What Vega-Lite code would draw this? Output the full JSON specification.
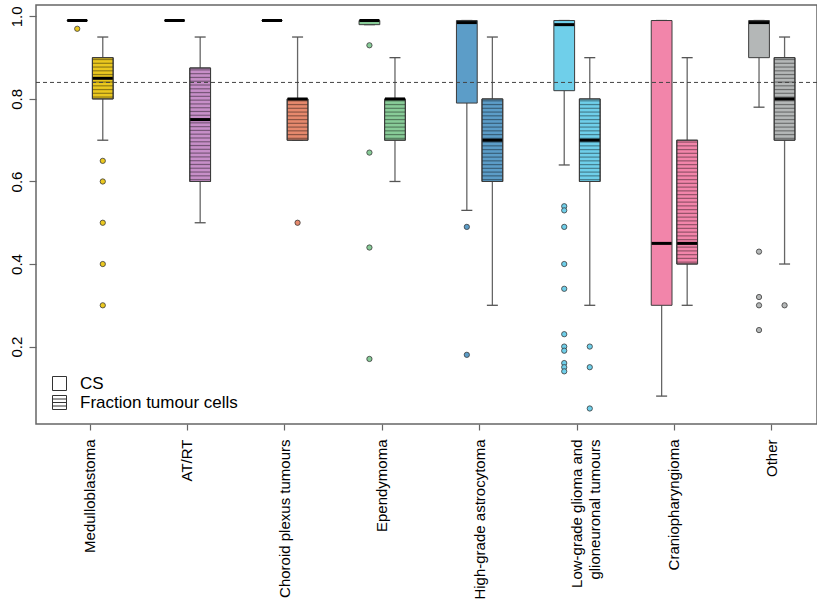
{
  "$schema": "https://vega.github.io/schema/vega-lite/v6.json",
  "width": 781,
  "height": 419,
  "autosize": {"type": "none"},
  "padding": {"left": 36, "top": 5, "right": 0, "bottom": 176},
  "background": "white",
  "datasets": {
    "boxes": [
      {"cat": "Medulloblastoma", "type": "CS", "lo": 0.99, "q1": 0.99, "med": 0.99, "q3": 0.99, "hi": 0.99},
      {"cat": "Medulloblastoma", "type": "Fraction tumour cells", "lo": 0.70, "q1": 0.80, "med": 0.85, "q3": 0.90, "hi": 0.95},
      {"cat": "AT/RT", "type": "CS", "lo": 0.99, "q1": 0.99, "med": 0.99, "q3": 0.99, "hi": 0.99},
      {"cat": "AT/RT", "type": "Fraction tumour cells", "lo": 0.50, "q1": 0.60, "med": 0.75, "q3": 0.875, "hi": 0.95},
      {"cat": "Choroid plexus tumours", "type": "CS", "lo": 0.99, "q1": 0.99, "med": 0.99, "q3": 0.99, "hi": 0.99},
      {"cat": "Choroid plexus tumours", "type": "Fraction tumour cells", "lo": 0.70, "q1": 0.70, "med": 0.80, "q3": 0.80, "hi": 0.95},
      {"cat": "Ependymoma", "type": "CS", "lo": 0.98, "q1": 0.98, "med": 0.99, "q3": 0.99, "hi": 0.99},
      {"cat": "Ependymoma", "type": "Fraction tumour cells", "lo": 0.60, "q1": 0.70, "med": 0.80, "q3": 0.80, "hi": 0.90},
      {"cat": "High-grade astrocytoma", "type": "CS", "lo": 0.53, "q1": 0.79, "med": 0.985, "q3": 0.99, "hi": 0.99},
      {"cat": "High-grade astrocytoma", "type": "Fraction tumour cells", "lo": 0.30, "q1": 0.60, "med": 0.70, "q3": 0.80, "hi": 0.95},
      {"cat": "Low-grade glioma and glioneuronal tumours", "type": "CS", "lo": 0.64, "q1": 0.82, "med": 0.98, "q3": 0.99, "hi": 0.99},
      {"cat": "Low-grade glioma and glioneuronal tumours", "type": "Fraction tumour cells", "lo": 0.30, "q1": 0.60, "med": 0.70, "q3": 0.80, "hi": 0.90},
      {"cat": "Craniopharyngioma", "type": "CS", "lo": 0.08, "q1": 0.30, "med": 0.45, "q3": 0.99, "hi": 0.99},
      {"cat": "Craniopharyngioma", "type": "Fraction tumour cells", "lo": 0.30, "q1": 0.40, "med": 0.45, "q3": 0.70, "hi": 0.90},
      {"cat": "Other", "type": "CS", "lo": 0.78, "q1": 0.90, "med": 0.985, "q3": 0.99, "hi": 0.99},
      {"cat": "Other", "type": "Fraction tumour cells", "lo": 0.40, "q1": 0.70, "med": 0.80, "q3": 0.90, "hi": 0.95}
    ],
    "outliers": [
      {"cat": "Medulloblastoma", "type": "CS", "v": 0.97},
      {"cat": "Medulloblastoma", "type": "Fraction tumour cells", "v": 0.65},
      {"cat": "Medulloblastoma", "type": "Fraction tumour cells", "v": 0.60},
      {"cat": "Medulloblastoma", "type": "Fraction tumour cells", "v": 0.50},
      {"cat": "Medulloblastoma", "type": "Fraction tumour cells", "v": 0.40},
      {"cat": "Medulloblastoma", "type": "Fraction tumour cells", "v": 0.30},
      {"cat": "Choroid plexus tumours", "type": "Fraction tumour cells", "v": 0.50},
      {"cat": "Ependymoma", "type": "CS", "v": 0.93},
      {"cat": "Ependymoma", "type": "CS", "v": 0.67},
      {"cat": "Ependymoma", "type": "CS", "v": 0.44},
      {"cat": "Ependymoma", "type": "CS", "v": 0.17},
      {"cat": "High-grade astrocytoma", "type": "CS", "v": 0.49},
      {"cat": "High-grade astrocytoma", "type": "CS", "v": 0.18},
      {"cat": "Low-grade glioma and glioneuronal tumours", "type": "CS", "v": 0.54},
      {"cat": "Low-grade glioma and glioneuronal tumours", "type": "CS", "v": 0.53},
      {"cat": "Low-grade glioma and glioneuronal tumours", "type": "CS", "v": 0.49},
      {"cat": "Low-grade glioma and glioneuronal tumours", "type": "CS", "v": 0.40},
      {"cat": "Low-grade glioma and glioneuronal tumours", "type": "CS", "v": 0.34},
      {"cat": "Low-grade glioma and glioneuronal tumours", "type": "CS", "v": 0.23},
      {"cat": "Low-grade glioma and glioneuronal tumours", "type": "CS", "v": 0.20},
      {"cat": "Low-grade glioma and glioneuronal tumours", "type": "CS", "v": 0.19},
      {"cat": "Low-grade glioma and glioneuronal tumours", "type": "CS", "v": 0.16},
      {"cat": "Low-grade glioma and glioneuronal tumours", "type": "CS", "v": 0.15},
      {"cat": "Low-grade glioma and glioneuronal tumours", "type": "CS", "v": 0.14},
      {"cat": "Low-grade glioma and glioneuronal tumours", "type": "Fraction tumour cells", "v": 0.20},
      {"cat": "Low-grade glioma and glioneuronal tumours", "type": "Fraction tumour cells", "v": 0.15},
      {"cat": "Low-grade glioma and glioneuronal tumours", "type": "Fraction tumour cells", "v": 0.05},
      {"cat": "Other", "type": "CS", "v": 0.43},
      {"cat": "Other", "type": "CS", "v": 0.32},
      {"cat": "Other", "type": "CS", "v": 0.30},
      {"cat": "Other", "type": "CS", "v": 0.24},
      {"cat": "Other", "type": "Fraction tumour cells", "v": 0.30}
    ],
    "reference": [{"ref": 0.84}]
  },
  "layer": [
    {
      "data": {"name": "boxes"},
      "mark": {"type": "rule", "color": "#666", "strokeWidth": 1.3},
      "encoding": {
        "x": {"field": "cat", "type": "nominal", "title": null,
          "scale": {"domain": ["Medulloblastoma", "AT/RT", "Choroid plexus tumours", "Ependymoma", "High-grade astrocytoma", "Low-grade glioma and glioneuronal tumours", "Craniopharyngioma", "Other"], "range": [5.3, 784.5], "paddingInner": 0, "paddingOuter": 0},
          "axis": {"labelExpr": "datum.label == 'Low-grade glioma and glioneuronal tumours' ? ['Low-grade glioma and', 'glioneuronal tumours'] : datum.label"}},
        "xOffset": {"field": "type", "type": "nominal", "scale": {"domain": ["CS", "Fraction tumour cells"], "paddingInner": 0.1875, "paddingOuter": 1.123}},
        "y": {"field": "lo", "type": "quantitative", "title": null,
          "scale": {"domain": [0.0124, 1.0276], "nice": false, "zero": false},
          "axis": {"values": [0.2, 0.4, 0.6, 0.8, 1.0], "format": ".1f"}},
        "y2": {"field": "q1"}
      }
    },
    {
      "data": {"name": "boxes"},
      "mark": {"type": "rule", "color": "#666", "strokeWidth": 1.3},
      "encoding": {
        "x": {"field": "cat", "type": "nominal", "title": null},
        "xOffset": {"field": "type", "type": "nominal"},
        "y": {"field": "q3", "type": "quantitative", "title": null},
        "y2": {"field": "hi"}
      }
    },
    {
      "data": {"name": "boxes"},
      "mark": {"type": "tick", "color": "#555", "thickness": 1.3, "size": 11, "opacity": 1},
      "encoding": {
        "x": {"field": "cat", "type": "nominal", "title": null},
        "xOffset": {"field": "type", "type": "nominal"},
        "y": {"field": "lo", "type": "quantitative", "title": null}
      }
    },
    {
      "data": {"name": "boxes"},
      "mark": {"type": "tick", "color": "#555", "thickness": 1.3, "size": 11, "opacity": 1},
      "encoding": {
        "x": {"field": "cat", "type": "nominal", "title": null},
        "xOffset": {"field": "type", "type": "nominal"},
        "y": {"field": "hi", "type": "quantitative", "title": null}
      }
    },
    {
      "data": {"name": "boxes"},
      "mark": {"type": "bar", "stroke": "#3c3c3c", "strokeWidth": 1, "opacity": 1},
      "encoding": {
        "x": {"field": "cat", "type": "nominal", "title": null},
        "xOffset": {"field": "type", "type": "nominal"},
        "y": {"field": "q1", "type": "quantitative", "title": null},
        "y2": {"field": "q3"},
        "fill": {"field": "cat", "type": "nominal", "legend": null,
          "scale": {"domain": ["Medulloblastoma", "AT/RT", "Choroid plexus tumours", "Ependymoma", "High-grade astrocytoma", "Low-grade glioma and glioneuronal tumours", "Craniopharyngioma", "Other"],
                    "range": ["#EBC81F", "#C78FC8", "#E6896D", "#88CC98", "#5C9DC8", "#6FCFEA", "#F285AA", "#B4B7B7"]}}
      }
    },
    {
      "data": {"name": "boxes"},
      "transform": [{"filter": {"and": [{"field": "type", "equal": "Fraction tumour cells"}, {"field": "cat", "oneOf": ["Medulloblastoma", "Choroid plexus tumours", "Ependymoma"]}]}}],
      "mark": {"type": "bar", "stroke": "#3c3c3c", "strokeWidth": 1, "opacity": 1,
        "fill": {"gradient": "linear", "x1": 0, "y1": 0, "x2": 0, "y2": 1, "stops": [
          {"offset": 0.0182, "color": "transparent"}, {"offset": 0.0455, "color": "rgba(0,0,0,0.42)"}, {"offset": 0.0727, "color": "transparent"},
          {"offset": 0.1091, "color": "transparent"}, {"offset": 0.1364, "color": "rgba(0,0,0,0.42)"}, {"offset": 0.1636, "color": "transparent"},
          {"offset": 0.2000, "color": "transparent"}, {"offset": 0.2273, "color": "rgba(0,0,0,0.42)"}, {"offset": 0.2545, "color": "transparent"},
          {"offset": 0.2909, "color": "transparent"}, {"offset": 0.3182, "color": "rgba(0,0,0,0.42)"}, {"offset": 0.3455, "color": "transparent"},
          {"offset": 0.3818, "color": "transparent"}, {"offset": 0.4091, "color": "rgba(0,0,0,0.42)"}, {"offset": 0.4364, "color": "transparent"},
          {"offset": 0.4727, "color": "transparent"}, {"offset": 0.5000, "color": "rgba(0,0,0,0.42)"}, {"offset": 0.5273, "color": "transparent"},
          {"offset": 0.5636, "color": "transparent"}, {"offset": 0.5909, "color": "rgba(0,0,0,0.42)"}, {"offset": 0.6182, "color": "transparent"},
          {"offset": 0.6545, "color": "transparent"}, {"offset": 0.6818, "color": "rgba(0,0,0,0.42)"}, {"offset": 0.7091, "color": "transparent"},
          {"offset": 0.7455, "color": "transparent"}, {"offset": 0.7727, "color": "rgba(0,0,0,0.42)"}, {"offset": 0.8000, "color": "transparent"},
          {"offset": 0.8364, "color": "transparent"}, {"offset": 0.8636, "color": "rgba(0,0,0,0.42)"}, {"offset": 0.8909, "color": "transparent"},
          {"offset": 0.9273, "color": "transparent"}, {"offset": 0.9545, "color": "rgba(0,0,0,0.42)"}, {"offset": 0.9818, "color": "transparent"}
        ]}},
      "encoding": {
        "x": {"field": "cat", "type": "nominal", "title": null},
        "xOffset": {"field": "type", "type": "nominal"},
        "y": {"field": "q1", "type": "quantitative", "title": null},
        "y2": {"field": "q3"}
      }
    },
    {
      "data": {"name": "boxes"},
      "transform": [{"filter": {"and": [{"field": "type", "equal": "Fraction tumour cells"}, {"field": "cat", "oneOf": ["AT/RT"]}]}}],
      "mark": {"type": "bar", "stroke": "#3c3c3c", "strokeWidth": 1, "opacity": 1,
        "fill": {"gradient": "linear", "x1": 0, "y1": 0, "x2": 0, "y2": 1, "stops": [
          {"offset": 0.0067, "color": "transparent"}, {"offset": 0.0167, "color": "rgba(0,0,0,0.42)"}, {"offset": 0.0267, "color": "transparent"},
          {"offset": 0.0400, "color": "transparent"}, {"offset": 0.0500, "color": "rgba(0,0,0,0.42)"}, {"offset": 0.0600, "color": "transparent"},
          {"offset": 0.0733, "color": "transparent"}, {"offset": 0.0833, "color": "rgba(0,0,0,0.42)"}, {"offset": 0.0933, "color": "transparent"},
          {"offset": 0.1067, "color": "transparent"}, {"offset": 0.1167, "color": "rgba(0,0,0,0.42)"}, {"offset": 0.1267, "color": "transparent"},
          {"offset": 0.1400, "color": "transparent"}, {"offset": 0.1500, "color": "rgba(0,0,0,0.42)"}, {"offset": 0.1600, "color": "transparent"},
          {"offset": 0.1733, "color": "transparent"}, {"offset": 0.1833, "color": "rgba(0,0,0,0.42)"}, {"offset": 0.1933, "color": "transparent"},
          {"offset": 0.2067, "color": "transparent"}, {"offset": 0.2167, "color": "rgba(0,0,0,0.42)"}, {"offset": 0.2267, "color": "transparent"},
          {"offset": 0.2400, "color": "transparent"}, {"offset": 0.2500, "color": "rgba(0,0,0,0.42)"}, {"offset": 0.2600, "color": "transparent"},
          {"offset": 0.2733, "color": "transparent"}, {"offset": 0.2833, "color": "rgba(0,0,0,0.42)"}, {"offset": 0.2933, "color": "transparent"},
          {"offset": 0.3067, "color": "transparent"}, {"offset": 0.3167, "color": "rgba(0,0,0,0.42)"}, {"offset": 0.3267, "color": "transparent"},
          {"offset": 0.3400, "color": "transparent"}, {"offset": 0.3500, "color": "rgba(0,0,0,0.42)"}, {"offset": 0.3600, "color": "transparent"},
          {"offset": 0.3733, "color": "transparent"}, {"offset": 0.3833, "color": "rgba(0,0,0,0.42)"}, {"offset": 0.3933, "color": "transparent"},
          {"offset": 0.4067, "color": "transparent"}, {"offset": 0.4167, "color": "rgba(0,0,0,0.42)"}, {"offset": 0.4267, "color": "transparent"},
          {"offset": 0.4400, "color": "transparent"}, {"offset": 0.4500, "color": "rgba(0,0,0,0.42)"}, {"offset": 0.4600, "color": "transparent"},
          {"offset": 0.4733, "color": "transparent"}, {"offset": 0.4833, "color": "rgba(0,0,0,0.42)"}, {"offset": 0.4933, "color": "transparent"},
          {"offset": 0.5067, "color": "transparent"}, {"offset": 0.5167, "color": "rgba(0,0,0,0.42)"}, {"offset": 0.5267, "color": "transparent"},
          {"offset": 0.5400, "color": "transparent"}, {"offset": 0.5500, "color": "rgba(0,0,0,0.42)"}, {"offset": 0.5600, "color": "transparent"},
          {"offset": 0.5733, "color": "transparent"}, {"offset": 0.5833, "color": "rgba(0,0,0,0.42)"}, {"offset": 0.5933, "color": "transparent"},
          {"offset": 0.6067, "color": "transparent"}, {"offset": 0.6167, "color": "rgba(0,0,0,0.42)"}, {"offset": 0.6267, "color": "transparent"},
          {"offset": 0.6400, "color": "transparent"}, {"offset": 0.6500, "color": "rgba(0,0,0,0.42)"}, {"offset": 0.6600, "color": "transparent"},
          {"offset": 0.6733, "color": "transparent"}, {"offset": 0.6833, "color": "rgba(0,0,0,0.42)"}, {"offset": 0.6933, "color": "transparent"},
          {"offset": 0.7067, "color": "transparent"}, {"offset": 0.7167, "color": "rgba(0,0,0,0.42)"}, {"offset": 0.7267, "color": "transparent"},
          {"offset": 0.7400, "color": "transparent"}, {"offset": 0.7500, "color": "rgba(0,0,0,0.42)"}, {"offset": 0.7600, "color": "transparent"},
          {"offset": 0.7733, "color": "transparent"}, {"offset": 0.7833, "color": "rgba(0,0,0,0.42)"}, {"offset": 0.7933, "color": "transparent"},
          {"offset": 0.8067, "color": "transparent"}, {"offset": 0.8167, "color": "rgba(0,0,0,0.42)"}, {"offset": 0.8267, "color": "transparent"},
          {"offset": 0.8400, "color": "transparent"}, {"offset": 0.8500, "color": "rgba(0,0,0,0.42)"}, {"offset": 0.8600, "color": "transparent"},
          {"offset": 0.8733, "color": "transparent"}, {"offset": 0.8833, "color": "rgba(0,0,0,0.42)"}, {"offset": 0.8933, "color": "transparent"},
          {"offset": 0.9067, "color": "transparent"}, {"offset": 0.9167, "color": "rgba(0,0,0,0.42)"}, {"offset": 0.9267, "color": "transparent"},
          {"offset": 0.9400, "color": "transparent"}, {"offset": 0.9500, "color": "rgba(0,0,0,0.42)"}, {"offset": 0.9600, "color": "transparent"},
          {"offset": 0.9733, "color": "transparent"}, {"offset": 0.9833, "color": "rgba(0,0,0,0.42)"}, {"offset": 0.9933, "color": "transparent"}
        ]}},
      "encoding": {
        "x": {"field": "cat", "type": "nominal", "title": null},
        "xOffset": {"field": "type", "type": "nominal"},
        "y": {"field": "q1", "type": "quantitative", "title": null},
        "y2": {"field": "q3"}
      }
    },
    {
      "data": {"name": "boxes"},
      "transform": [{"filter": {"and": [{"field": "type", "equal": "Fraction tumour cells"}, {"field": "cat", "oneOf": ["High-grade astrocytoma", "Low-grade glioma and glioneuronal tumours", "Other"]}]}}],
      "mark": {"type": "bar", "stroke": "#3c3c3c", "strokeWidth": 1, "opacity": 1,
        "fill": {"gradient": "linear", "x1": 0, "y1": 0, "x2": 0, "y2": 1, "stops": [
          {"offset": 0.0091, "color": "transparent"}, {"offset": 0.0227, "color": "rgba(0,0,0,0.42)"}, {"offset": 0.0364, "color": "transparent"},
          {"offset": 0.0545, "color": "transparent"}, {"offset": 0.0682, "color": "rgba(0,0,0,0.42)"}, {"offset": 0.0818, "color": "transparent"},
          {"offset": 0.1000, "color": "transparent"}, {"offset": 0.1136, "color": "rgba(0,0,0,0.42)"}, {"offset": 0.1273, "color": "transparent"},
          {"offset": 0.1455, "color": "transparent"}, {"offset": 0.1591, "color": "rgba(0,0,0,0.42)"}, {"offset": 0.1727, "color": "transparent"},
          {"offset": 0.1909, "color": "transparent"}, {"offset": 0.2045, "color": "rgba(0,0,0,0.42)"}, {"offset": 0.2182, "color": "transparent"},
          {"offset": 0.2364, "color": "transparent"}, {"offset": 0.2500, "color": "rgba(0,0,0,0.42)"}, {"offset": 0.2636, "color": "transparent"},
          {"offset": 0.2818, "color": "transparent"}, {"offset": 0.2955, "color": "rgba(0,0,0,0.42)"}, {"offset": 0.3091, "color": "transparent"},
          {"offset": 0.3273, "color": "transparent"}, {"offset": 0.3409, "color": "rgba(0,0,0,0.42)"}, {"offset": 0.3545, "color": "transparent"},
          {"offset": 0.3727, "color": "transparent"}, {"offset": 0.3864, "color": "rgba(0,0,0,0.42)"}, {"offset": 0.4000, "color": "transparent"},
          {"offset": 0.4182, "color": "transparent"}, {"offset": 0.4318, "color": "rgba(0,0,0,0.42)"}, {"offset": 0.4455, "color": "transparent"},
          {"offset": 0.4636, "color": "transparent"}, {"offset": 0.4773, "color": "rgba(0,0,0,0.42)"}, {"offset": 0.4909, "color": "transparent"},
          {"offset": 0.5091, "color": "transparent"}, {"offset": 0.5227, "color": "rgba(0,0,0,0.42)"}, {"offset": 0.5364, "color": "transparent"},
          {"offset": 0.5545, "color": "transparent"}, {"offset": 0.5682, "color": "rgba(0,0,0,0.42)"}, {"offset": 0.5818, "color": "transparent"},
          {"offset": 0.6000, "color": "transparent"}, {"offset": 0.6136, "color": "rgba(0,0,0,0.42)"}, {"offset": 0.6273, "color": "transparent"},
          {"offset": 0.6455, "color": "transparent"}, {"offset": 0.6591, "color": "rgba(0,0,0,0.42)"}, {"offset": 0.6727, "color": "transparent"},
          {"offset": 0.6909, "color": "transparent"}, {"offset": 0.7045, "color": "rgba(0,0,0,0.42)"}, {"offset": 0.7182, "color": "transparent"},
          {"offset": 0.7364, "color": "transparent"}, {"offset": 0.7500, "color": "rgba(0,0,0,0.42)"}, {"offset": 0.7636, "color": "transparent"},
          {"offset": 0.7818, "color": "transparent"}, {"offset": 0.7955, "color": "rgba(0,0,0,0.42)"}, {"offset": 0.8091, "color": "transparent"},
          {"offset": 0.8273, "color": "transparent"}, {"offset": 0.8409, "color": "rgba(0,0,0,0.42)"}, {"offset": 0.8545, "color": "transparent"},
          {"offset": 0.8727, "color": "transparent"}, {"offset": 0.8864, "color": "rgba(0,0,0,0.42)"}, {"offset": 0.9000, "color": "transparent"},
          {"offset": 0.9182, "color": "transparent"}, {"offset": 0.9318, "color": "rgba(0,0,0,0.42)"}, {"offset": 0.9455, "color": "transparent"},
          {"offset": 0.9636, "color": "transparent"}, {"offset": 0.9773, "color": "rgba(0,0,0,0.42)"}, {"offset": 0.9909, "color": "transparent"}
        ]}},
      "encoding": {
        "x": {"field": "cat", "type": "nominal", "title": null},
        "xOffset": {"field": "type", "type": "nominal"},
        "y": {"field": "q1", "type": "quantitative", "title": null},
        "y2": {"field": "q3"}
      }
    },
    {
      "data": {"name": "boxes"},
      "transform": [{"filter": {"and": [{"field": "type", "equal": "Fraction tumour cells"}, {"field": "cat", "oneOf": ["Craniopharyngioma"]}]}}],
      "mark": {"type": "bar", "stroke": "#3c3c3c", "strokeWidth": 1, "opacity": 1,
        "fill": {"gradient": "linear", "x1": 0, "y1": 0, "x2": 0, "y2": 1, "stops": [
          {"offset": 0.0061, "color": "transparent"}, {"offset": 0.0152, "color": "rgba(0,0,0,0.42)"}, {"offset": 0.0242, "color": "transparent"},
          {"offset": 0.0364, "color": "transparent"}, {"offset": 0.0455, "color": "rgba(0,0,0,0.42)"}, {"offset": 0.0545, "color": "transparent"},
          {"offset": 0.0667, "color": "transparent"}, {"offset": 0.0758, "color": "rgba(0,0,0,0.42)"}, {"offset": 0.0848, "color": "transparent"},
          {"offset": 0.0970, "color": "transparent"}, {"offset": 0.1061, "color": "rgba(0,0,0,0.42)"}, {"offset": 0.1152, "color": "transparent"},
          {"offset": 0.1273, "color": "transparent"}, {"offset": 0.1364, "color": "rgba(0,0,0,0.42)"}, {"offset": 0.1455, "color": "transparent"},
          {"offset": 0.1576, "color": "transparent"}, {"offset": 0.1667, "color": "rgba(0,0,0,0.42)"}, {"offset": 0.1758, "color": "transparent"},
          {"offset": 0.1879, "color": "transparent"}, {"offset": 0.1970, "color": "rgba(0,0,0,0.42)"}, {"offset": 0.2061, "color": "transparent"},
          {"offset": 0.2182, "color": "transparent"}, {"offset": 0.2273, "color": "rgba(0,0,0,0.42)"}, {"offset": 0.2364, "color": "transparent"},
          {"offset": 0.2485, "color": "transparent"}, {"offset": 0.2576, "color": "rgba(0,0,0,0.42)"}, {"offset": 0.2667, "color": "transparent"},
          {"offset": 0.2788, "color": "transparent"}, {"offset": 0.2879, "color": "rgba(0,0,0,0.42)"}, {"offset": 0.2970, "color": "transparent"},
          {"offset": 0.3091, "color": "transparent"}, {"offset": 0.3182, "color": "rgba(0,0,0,0.42)"}, {"offset": 0.3273, "color": "transparent"},
          {"offset": 0.3394, "color": "transparent"}, {"offset": 0.3485, "color": "rgba(0,0,0,0.42)"}, {"offset": 0.3576, "color": "transparent"},
          {"offset": 0.3697, "color": "transparent"}, {"offset": 0.3788, "color": "rgba(0,0,0,0.42)"}, {"offset": 0.3879, "color": "transparent"},
          {"offset": 0.4000, "color": "transparent"}, {"offset": 0.4091, "color": "rgba(0,0,0,0.42)"}, {"offset": 0.4182, "color": "transparent"},
          {"offset": 0.4303, "color": "transparent"}, {"offset": 0.4394, "color": "rgba(0,0,0,0.42)"}, {"offset": 0.4485, "color": "transparent"},
          {"offset": 0.4606, "color": "transparent"}, {"offset": 0.4697, "color": "rgba(0,0,0,0.42)"}, {"offset": 0.4788, "color": "transparent"},
          {"offset": 0.4909, "color": "transparent"}, {"offset": 0.5000, "color": "rgba(0,0,0,0.42)"}, {"offset": 0.5091, "color": "transparent"},
          {"offset": 0.5212, "color": "transparent"}, {"offset": 0.5303, "color": "rgba(0,0,0,0.42)"}, {"offset": 0.5394, "color": "transparent"},
          {"offset": 0.5515, "color": "transparent"}, {"offset": 0.5606, "color": "rgba(0,0,0,0.42)"}, {"offset": 0.5697, "color": "transparent"},
          {"offset": 0.5818, "color": "transparent"}, {"offset": 0.5909, "color": "rgba(0,0,0,0.42)"}, {"offset": 0.6000, "color": "transparent"},
          {"offset": 0.6121, "color": "transparent"}, {"offset": 0.6212, "color": "rgba(0,0,0,0.42)"}, {"offset": 0.6303, "color": "transparent"},
          {"offset": 0.6424, "color": "transparent"}, {"offset": 0.6515, "color": "rgba(0,0,0,0.42)"}, {"offset": 0.6606, "color": "transparent"},
          {"offset": 0.6727, "color": "transparent"}, {"offset": 0.6818, "color": "rgba(0,0,0,0.42)"}, {"offset": 0.6909, "color": "transparent"},
          {"offset": 0.7030, "color": "transparent"}, {"offset": 0.7121, "color": "rgba(0,0,0,0.42)"}, {"offset": 0.7212, "color": "transparent"},
          {"offset": 0.7333, "color": "transparent"}, {"offset": 0.7424, "color": "rgba(0,0,0,0.42)"}, {"offset": 0.7515, "color": "transparent"},
          {"offset": 0.7636, "color": "transparent"}, {"offset": 0.7727, "color": "rgba(0,0,0,0.42)"}, {"offset": 0.7818, "color": "transparent"},
          {"offset": 0.7939, "color": "transparent"}, {"offset": 0.8030, "color": "rgba(0,0,0,0.42)"}, {"offset": 0.8121, "color": "transparent"},
          {"offset": 0.8242, "color": "transparent"}, {"offset": 0.8333, "color": "rgba(0,0,0,0.42)"}, {"offset": 0.8424, "color": "transparent"},
          {"offset": 0.8545, "color": "transparent"}, {"offset": 0.8636, "color": "rgba(0,0,0,0.42)"}, {"offset": 0.8727, "color": "transparent"},
          {"offset": 0.8848, "color": "transparent"}, {"offset": 0.8939, "color": "rgba(0,0,0,0.42)"}, {"offset": 0.9030, "color": "transparent"},
          {"offset": 0.9152, "color": "transparent"}, {"offset": 0.9242, "color": "rgba(0,0,0,0.42)"}, {"offset": 0.9333, "color": "transparent"},
          {"offset": 0.9455, "color": "transparent"}, {"offset": 0.9545, "color": "rgba(0,0,0,0.42)"}, {"offset": 0.9636, "color": "transparent"},
          {"offset": 0.9758, "color": "transparent"}, {"offset": 0.9848, "color": "rgba(0,0,0,0.42)"}, {"offset": 0.9939, "color": "transparent"}
        ]}},
      "encoding": {
        "x": {"field": "cat", "type": "nominal", "title": null},
        "xOffset": {"field": "type", "type": "nominal"},
        "y": {"field": "q1", "type": "quantitative", "title": null},
        "y2": {"field": "q3"}
      }
    },
    {
      "data": {"name": "boxes"},
      "mark": {"type": "tick", "color": "#000", "thickness": 3, "size": 20, "opacity": 1},
      "encoding": {
        "x": {"field": "cat", "type": "nominal", "title": null},
        "xOffset": {"field": "type", "type": "nominal"},
        "y": {"field": "med", "type": "quantitative", "title": null}
      }
    },
    {
      "data": {"name": "outliers"},
      "mark": {"type": "point", "filled": true, "size": 28, "stroke": "#3a3a3a", "strokeWidth": 0.8, "opacity": 1},
      "encoding": {
        "x": {"field": "cat", "type": "nominal", "title": null},
        "xOffset": {"field": "type", "type": "nominal"},
        "y": {"field": "v", "type": "quantitative", "title": null},
        "fill": {"field": "cat", "type": "nominal", "legend": null}
      }
    },
    {
      "data": {"name": "boxes"},
      "transform": [{"filter": "false"}],
      "mark": {"type": "point", "filled": false, "stroke": "#333", "strokeWidth": 1, "opacity": 1},
      "encoding": {
        "x": {"field": "cat", "type": "nominal", "title": null},
        "xOffset": {"field": "type", "type": "nominal"},
        "y": {"field": "med", "type": "quantitative", "title": null},
        "shape": {"field": "type", "type": "nominal",
          "scale": {"domain": ["CS", "Fraction tumour cells"], "range": ["square", "M-1,-1H1V1H-1ZM-1,-0.5H1M-1,0H1M-1,0.5H1"]},
          "legend": {
            "title": null, "orient": "none", "legendX": 15, "legendY": 370,
            "labelFontSize": 17, "labelFont": "Liberation Sans", "labelColor": "#000",
            "symbolSize": 196, "symbolFillColor": "#ffffff", "symbolStrokeColor": "#333", "symbolStrokeWidth": 1,
            "labelOffset": 12, "rowPadding": 0, "padding": 0
          }
        }
      }
    },
    {
      "data": {"name": "reference"},
      "mark": {"type": "rule", "color": "#444", "strokeWidth": 1, "strokeDash": [4, 3]},
      "encoding": {
        "y": {"field": "ref", "type": "quantitative", "title": null}
      }
    }
  ],
  "config": {
    "view": {"stroke": "#666", "strokeWidth": 1.5},
    "font": "Liberation Sans",
    "axis": {"grid": false, "domain": false},
    "axisX": {"labelAngle": 270, "labelFontSize": 15, "labelFont": "Liberation Sans", "labelColor": "#000",
      "tickColor": "#666", "tickSize": 6, "tickWidth": 1.2, "labelPadding": 9, "labelLimit": 0,
      "labelLineHeight": 18, "labelAlign": "right", "labelBaseline": "middle"},
    "axisY": {"labelAngle": 270, "labelFontSize": 15, "labelFont": "Liberation Sans", "labelColor": "#000",
      "tickColor": "#666", "tickSize": 7, "tickWidth": 1.2, "labelPadding": 8,
      "labelAlign": "center", "labelBaseline": "alphabetic"}
  }
}
